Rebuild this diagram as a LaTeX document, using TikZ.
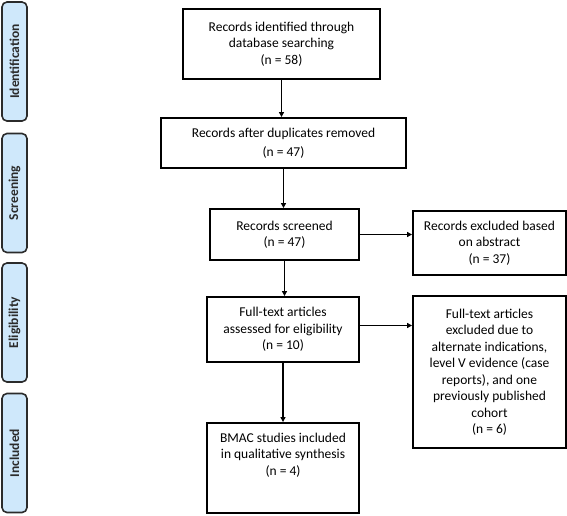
\documentclass[tikz,border=0pt]{standalone}
\usepackage{fontspec}
\setmainfont{Carlito}
\usetikzlibrary{arrows.meta}
\definecolor{phasefill}{HTML}{CFE8FB}
\definecolor{phaseline}{HTML}{2B2B2B}
\tikzset{
  boxstyle/.style={draw=black, line width=1.9pt, align=center, inner sep=0pt,
    font=\fontsize{13.5}{16.5}\selectfont, text=black},
  phase/.style={draw=phaseline, fill=phasefill, line width=1.6pt, rounded corners=5pt,
    minimum width=25pt, minimum height=119pt, inner sep=0pt},
  phasetext/.style={rotate=90, font=\bfseries\fontsize{13.5}{15}\selectfont, text=phaseline},
  arr/.style={draw=black, line width=1.9pt, -{Triangle[length=5pt,width=5pt]}},
}
\begin{document}
\begin{tikzpicture}[x=1pt,y=-1pt]
\useasboundingbox (0,0) rectangle (567,515);
% phase labels
\node[phase] (p1) at (14.5,61.5) {};
\node[phasetext] (t1) at (p1) {Identification};
\node[phase] (p2) at (14.5,193) {};
\node[phasetext] (t2) at (p2) {Screening};
\node[phase] (p3) at (14.5,322.5) {};
\node[phasetext] (t3) at (p3) {Eligibility};
\node[phase] (p4) at (14.5,453) {};
\node[phasetext] (t4) at (p4) {Included};
% boxes
\node[boxstyle, minimum width=197pt, minimum height=70pt] (b1) at (281.5,44)
  {Records identified through\\database searching\\(n = 58)};
\node[boxstyle, minimum width=245pt, minimum height=50pt] (b2) at (283.5,143)
  {Records after duplicates removed\\[3pt](n = 47)};
\node[boxstyle, minimum width=149pt, minimum height=51pt] (b3) at (284.5,234.5)
  {Records screened\\(n = 47)};
\node[boxstyle, minimum width=153pt, minimum height=64pt] (b4) at (489.5,243)
  {Records excluded based\\on abstract\\(n = 37)};
\node[boxstyle, minimum width=152pt, minimum height=65pt] (b5) at (283,329.5)
  {Full-text articles\\assessed for eligibility\\(n = 10)};
\node[boxstyle, minimum width=153pt, minimum height=152pt] (b6) at (489.5,372)
  {Full-text articles\\excluded due to\\alternate indications,\\level V evidence (case\\reports), and one\\previously published\\cohort\\(n = 6)};
\node[boxstyle, minimum width=152pt, minimum height=90pt] (b7) at (283,468) {};
\node[boxstyle, draw=none, anchor=north] (b7t) at ([yshift=-10pt]b7.north)
  {BMAC studies included\\in qualitative synthesis\\(n = 4)};
% connectors
\draw[arr] (b1.south) -- (b1.south |- b2.north);
\draw[arr] (b2.south) -- (b2.south |- b3.north);
\draw[arr] (b3.south) -- (b3.south |- b5.north);
\draw[arr] (b5.south) -- (b5.south |- b7.north);
\draw[arr] (b3.east) -- (b3.east -| b4.west);
\draw[arr] ([yshift=4pt]b5.east) -- ([yshift=4pt]b5.east -| b6.west);
\end{tikzpicture}
\end{document}
